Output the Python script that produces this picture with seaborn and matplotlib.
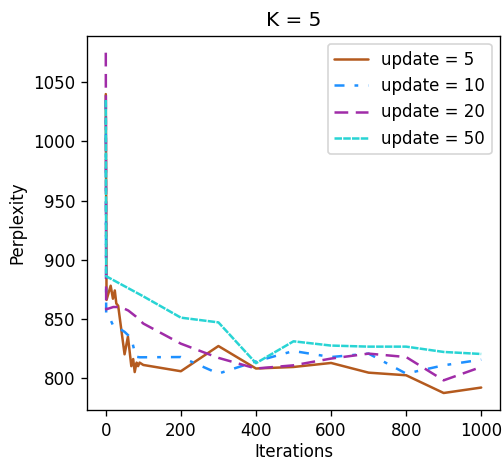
"""
Perplexity vs iterations for several update intervals (K = 5).
"""

import numpy as np
import pandas as pd
import seaborn as sns
import matplotlib
matplotlib.use("Agg")
import matplotlib.pyplot as plt

# Data
x_upd5 = [0, 2, 13, 19, 24, 28, 33, 50, 59, 68, 73, 77, 82, 86, 90, 95, 100,
          200, 300, 400, 500, 600, 700, 800, 900, 1000]
y_upd5 = [1040, 866, 878, 867, 874, 863, 861, 820, 835, 810, 816, 805, 813, 810, 813, 812, 811,
          805.7, 827, 808, 809.3, 812.7, 804.5, 802.3, 787.3, 791.9]

x_upd10 = [0, 1, 10, 20, 30, 40, 50, 60, 70, 80, 90, 100,
           200, 300, 400, 500, 600, 700, 800, 900, 1000]
y_upd10 = [1035, 855, 851, 844, 842, 841, 839, 836, 831, 818, 817.5, 817.5,
           817.7, 803.7, 814, 822.8, 817.7, 820.6, 803.7, 810.7, 815.5]

x_upd20 = [0, 1, 20, 40, 60, 80, 100, 200, 300, 400, 500, 600, 700, 800, 900, 1000]
y_upd20 = [1075, 858, 860, 860, 857, 852, 846, 829, 817, 808, 810.7, 816.4, 820.6, 817.7, 798, 809.3]

x_upd50 = [0, 1, 100, 200, 300, 400, 500, 600, 700, 800, 900, 1000]
y_upd50 = [1035, 886, 869, 851, 847, 812.5, 831, 827.4, 826.5, 826.5, 822, 820.3]

labels = ["update = 5", "update = 10", "update = 20", "update = 50"]
colors = ["#b45a1e", "#1e90ff", "#a02ca8", "#28d4d4"]
styles = ["-", (0, (4, 4, 1.5, 4)), (0, (5.5, 3)), (0, (3, 0.5))]

series = [(x_upd5, y_upd5), (x_upd10, y_upd10), (x_upd20, y_upd20), (x_upd50, y_upd50)]

sns.set_style("ticks", {"text.color": "black", "axes.labelcolor": "black",
                        "xtick.color": "black", "ytick.color": "black",
                        "axes.edgecolor": "black"})
plt.rcParams["font.family"] = ["DejaVu Sans"]
plt.rcParams["xtick.major.size"] = 3.5
plt.rcParams["ytick.major.size"] = 3.5

fig, ax = plt.subplots(figsize=(503 / 120, 461 / 120), dpi=120)
fig.subplots_adjust(left=0.173, right=0.994, top=0.9226, bottom=0.1106)

for (xs, ys), lab, col, ls in zip(series, labels, colors, styles):
    df = pd.DataFrame({"Iterations": xs, "Perplexity": ys})
    sns.lineplot(data=df, x="Iterations", y="Perplexity", ax=ax, color=col,
                 linestyle=ls, linewidth=1.5, label=lab, sort=False, errorbar=None)

ax.set_title("K = 5", fontsize=12)
ax.set_xticks([0, 200, 400, 600, 800, 1000])
ax.set_yticks([800, 850, 900, 950, 1000, 1050])
ax.set_xlabel("Iterations", labelpad=2)
ax.legend(loc="upper right", fontsize=10)

fig.savefig("out.png", dpi=120)
